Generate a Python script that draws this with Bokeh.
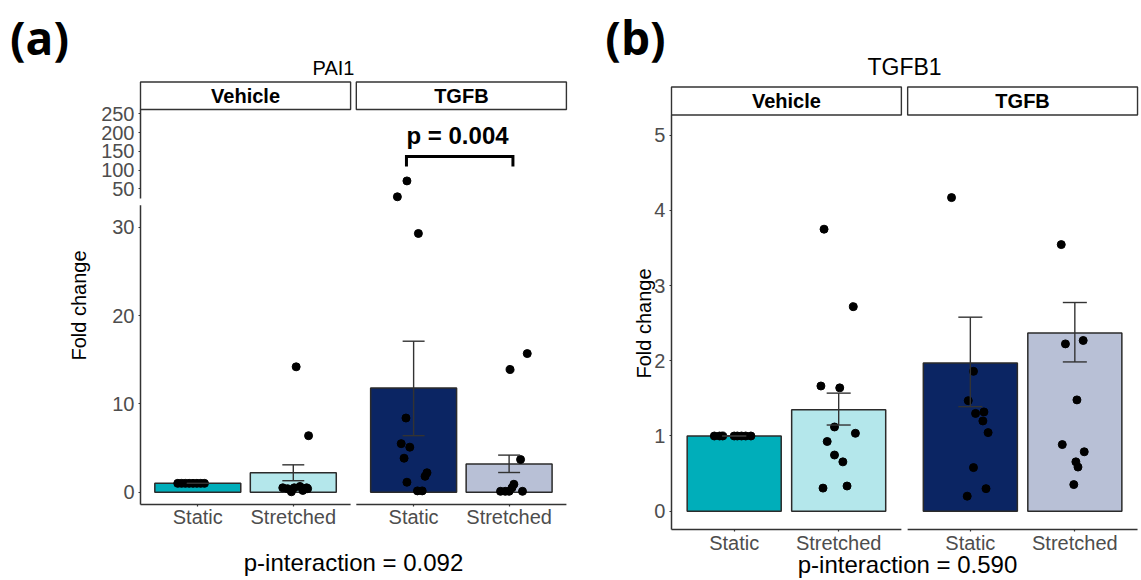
import math
from bokeh.plotting import figure
from bokeh.models import Range1d, FixedTicker, CustomJSTickFormatter, Label
from bokeh.layouts import row
from bokeh.embed import file_html
from bokeh.resources import INLINE
from bokeh.core.properties import value

# ---------------- data ----------------
conditions = ["Vehicle", "TGFB"]
stretch_levels = ["Static", "Stretched"]
x_labels = ["Static", "Stretched", "Static", "Stretched"]

# PAI1 (panel a): group order Vehicle-Static, Vehicle-Stretched, TGFB-Static, TGFB-Stretched
pai1_mean = [1.0, 2.2, 11.8, 3.2]
pai1_err_lo = [1.0, 1.3, 6.4, 2.23]
pai1_err_hi = [1.0, 3.1, 17.1, 4.2]
pai1_veh_static = [1.0, 1.0, 1.0, 1.0, 1.0, 1.0, 1.0, 1.0]
pai1_veh_static_jit = [-0.21, -0.17, -0.13, -0.09, -0.05, -0.01, 0.03, 0.07]
pai1_veh_stretch = [14.2, 6.4, 0.5, 0.4, 0.05, 0.5, 0.65, 0.2, 0.5, 0.4]
pai1_veh_stretch_jit = [0.03, 0.16, -0.11, -0.06, -0.02, 0.01, 0.07, 0.10, 0.14, 0.15]
pai1_tgfb_static = [29.3, 8.4, 5.5, 5.1, 3.85, 2.2, 1.8, 1.13, 0.15, 0.15]
pai1_tgfb_static_jit = [0.05, -0.08, -0.13, -0.04, -0.10, 0.14, 0.12, -0.07, 0.04, 0.09]
pai1_tgfb_static_high = [71.0, 28.7]          # points drawn on the upper (broken) axis
pai1_tgfb_static_high_jit = [-0.07, -0.17]
pai1_tgfb_stretch = [13.9, 15.7, 3.7, 0.1, 0.1, 0.1, 0.5, 0.9, 0.1]
pai1_tgfb_stretch_jit = [0.01, 0.19, 0.12, -0.09, -0.04, 0.0, 0.03, 0.05, 0.14]
pai1_lower_ticks = [0, 10, 20, 30]
pai1_upper_ticks = [50, 100, 150, 200, 250]
pai1_p_value = "p = 0.004"
pai1_p_interaction = "p-interaction = 0.092"

# TGFB1 (panel b)
tgfb1_mean = [1.0, 1.35, 1.97, 2.37]
tgfb1_err_lo = [1.0, 1.146, 1.39, 1.985]
tgfb1_err_hi = [1.0, 1.57, 2.58, 2.775]
tgfb1_veh_static = [1.0, 1.0, 1.0, 1.0, 1.0, 1.0, 1.0, 1.0]
tgfb1_veh_static_jit = [-0.19, -0.14, -0.11, 0.0, 0.03, 0.07, 0.11, 0.16]
tgfb1_veh_stretch = [3.75, 2.72, 1.665, 1.64, 1.12, 1.036, 0.927, 0.747, 0.656, 0.307, 0.335]
tgfb1_veh_stretch_jit = [-0.14, 0.14, -0.17, 0.01, -0.04, 0.16, -0.11, -0.04, 0.04, -0.15, 0.08]
tgfb1_tgfb_static = [4.17, 1.86, 1.47, 1.30, 1.32, 1.20, 1.045, 0.58, 0.30, 0.20]
tgfb1_tgfb_static_jit = [-0.18, 0.03, -0.02, 0.05, 0.13, 0.12, 0.17, 0.03, 0.15, -0.03]
tgfb1_tgfb_stretch = [3.545, 2.225, 2.27, 1.48, 0.886, 0.79, 0.656, 0.587, 0.354]
tgfb1_tgfb_stretch_jit = [-0.13, -0.09, 0.08, 0.02, -0.12, 0.09, 0.01, 0.03, -0.01]
tgfb1_ticks = [0, 1, 2, 3, 4, 5]
tgfb1_p_interaction = "p-interaction = 0.590"

# ---------------- style / layout ----------------
BAR_COLORS = ["#00AEBA", "#B4E7EB", "#0B2563", "#B8C0D6"]
EDGE = "#2B2B2B"
AXIS_C = "#333333"
TICK_TXT = "#4D4D4D"
FONT = "Liberation Sans"
FACET_SHIFT = 2.26
X_POS = [1.0, 2.0, 1.0 + FACET_SHIFT, 2.0 + FACET_SHIFT]
FACETS = [(0.4, 2.6), (0.4 + FACET_SHIFT, 2.6 + FACET_SHIFT)]
BAR_W = 0.9
CAP_W = 0.23
H = 580
WA, WB = 598, 543


def make_fig(w, xr, yr):
    p = figure(width=w, height=H, min_border=0, x_range=Range1d(*xr), y_range=Range1d(*yr),
               output_backend="svg", toolbar_location=None, title=None)
    p.xgrid.visible = False
    p.ygrid.visible = False
    p.outline_line_color = None
    p.background_fill_color = "white"
    p.border_fill_color = "white"
    for ax in list(p.xaxis) + list(p.yaxis):
        ax.axis_line_color = None
        ax.major_tick_line_color = AXIS_C
        ax.major_tick_line_width = 1.2
        ax.major_tick_out = 2
        ax.major_tick_in = 0
        ax.minor_tick_line_color = None
        ax.major_label_text_font = FONT
        ax.major_label_text_font_size = "20px"
        ax.major_label_text_color = TICK_TXT
    p.xaxis.major_label_standoff = 0
    p.yaxis.major_label_standoff = 4
    p.xaxis.ticker = FixedTicker(ticks=X_POS)
    p.xaxis.formatter = CustomJSTickFormatter(args=dict(labels=x_labels), code="return labels[index];")
    p.yaxis.fixed_location = FACETS[0][0]
    return p


def draw_common(p, means, lo, hi, groups, y0, strip_bottom, strip_top):
    p.xaxis.fixed_location = y0
    for (a, b) in FACETS:
        p.segment(x0=a, y0=y0, x1=b, y1=y0, line_color=AXIS_C, line_width=1.5)
    p.quad(left=[f[0] for f in FACETS], right=[f[1] for f in FACETS],
           bottom=strip_bottom, top=strip_top, fill_color="white",
           line_color=AXIS_C, line_width=1.4)
    p.text(x=[(a + b) / 2 for a, b in FACETS], y=(strip_bottom + strip_top) / 2,
           text=conditions, text_font=value(FONT), text_font_style="bold",
           text_font_size="20px", text_align="center", text_baseline="middle",
           text_color="black")
    p.vbar(x=X_POS, top=means, bottom=0, width=BAR_W, fill_color=BAR_COLORS,
           line_color=EDGE, line_width=1.5)
    for i, (vals, jit) in enumerate(groups):
        p.scatter(x=[X_POS[i] + j for j in jit], y=vals, size=8, color="black")
    p.segment(x0=X_POS, y0=lo, x1=X_POS, y1=hi, line_color=AXIS_C, line_width=1.4)
    for arr in (lo, hi):
        p.segment(x0=[x - CAP_W / 2 for x in X_POS], y0=arr,
                  x1=[x + CAP_W / 2 for x in X_POS], y1=arr,
                  line_color=AXIS_C, line_width=1.4)


def add_text(p, text, left, px, py, size, bold=False, font=FONT, angle=0.0):
    # px, py: page position of the text centre
    p.add_layout(Label(x=px - left, y=H - py, x_units="screen", y_units="screen", text=text,
                       text_font=font, text_font_size=size,
                       text_font_style="bold" if bold else "normal",
                       text_align="center", text_baseline="middle",
                       text_color="black", angle=angle))


# ---------------- panel (a): PAI1 with broken y axis ----------------
A_X = (-1.066, 5.196)
A_LOW = (-10.0, 55.685)       # lower-segment scale over the full canvas height
A_UP = (-994.5, 552.1)        # upper-segment scale over the full canvas height
A_AXIS_Y = -1.39
A_LOW_TOP = 32.5
A_UP_BOTTOM = 24.1
A_UP_END = 261.5
A_STRIP = (43.34, 46.45)

pa = make_fig(WA, A_X, A_LOW)
pa.extra_y_ranges = {"upper": Range1d(*A_UP)}


def up_to_low(u):
    return A_LOW[0] + (u - A_UP[0]) / (A_UP[1] - A_UP[0]) * (A_LOW[1] - A_LOW[0])


pa.yaxis.ticker = FixedTicker(ticks=pai1_lower_ticks + [up_to_low(u) for u in pai1_upper_ticks])
pa.yaxis.formatter = CustomJSTickFormatter(
    args=dict(cut=33.0, us=A_UP[0], ue=A_UP[1], ls=A_LOW[0], le=A_LOW[1]),
    code="""
if (tick > cut) {
  const u = us + (tick - ls) / (le - ls) * (ue - us);
  return Math.round(u).toString();
}
return Math.round(tick).toString();
""")

pa.segment(x0=FACETS[0][0], y0=A_AXIS_Y, x1=FACETS[0][0], y1=A_LOW_TOP, line_color=AXIS_C, line_width=1.5)
pa.segment(x0=FACETS[0][0], y0=A_UP_BOTTOM, x1=FACETS[0][0], y1=A_UP_END, line_color=AXIS_C,
           line_width=1.5, y_range_name="upper")

draw_common(pa, pai1_mean, pai1_err_lo, pai1_err_hi,
            [(pai1_veh_static, pai1_veh_static_jit),
             (pai1_veh_stretch, pai1_veh_stretch_jit),
             (pai1_tgfb_static, pai1_tgfb_static_jit),
             (pai1_tgfb_stretch, pai1_tgfb_stretch_jit)],
            A_AXIS_Y, A_STRIP[0], A_STRIP[1])
pa.scatter(x=[X_POS[2] + j for j in pai1_tgfb_static_high_jit], y=pai1_tgfb_static_high,
           size=8, color="black", y_range_name="upper")

bx0, bx1 = 3.185, 4.30
pa.line(x=[bx0, bx0, bx1, bx1], y=[109.5, 136.0, 136.0, 109.5], line_color="black",
        line_width=3, y_range_name="upper", line_join="miter")
pa.add_layout(Label(x=3.72, y=192.0, y_range_name="upper", text=pai1_p_value,
                    text_font=FONT, text_font_size="24px", text_font_style="bold",
                    text_align="center", text_baseline="middle", text_color="black"))

add_text(pa, "(a)", 0, 39, 36, "46px", bold=True, font="Open Sans")
add_text(pa, "PAI1", 0, 333, 67, "20px")
add_text(pa, "Fold change", 0, 78, 305, "20px", angle=math.pi / 2)
add_text(pa, pai1_p_interaction, 0, 353, 562, "24px")

# ---------------- panel (b): TGFB1 ----------------
B_X = (-0.2986, 4.898)
B_Y = (-0.9215, 6.791)
B_AXIS_Y = -0.2434
B_STRIP = (5.269, 5.641)

pb = make_fig(WB, B_X, B_Y)
pb.yaxis.ticker = FixedTicker(ticks=tgfb1_ticks)
pb.segment(x0=FACETS[0][0], y0=B_AXIS_Y, x1=FACETS[0][0], y1=B_STRIP[0], line_color=AXIS_C, line_width=1.5)

draw_common(pb, tgfb1_mean, tgfb1_err_lo, tgfb1_err_hi,
            [(tgfb1_veh_static, tgfb1_veh_static_jit),
             (tgfb1_veh_stretch, tgfb1_veh_stretch_jit),
             (tgfb1_tgfb_static, tgfb1_tgfb_static_jit),
             (tgfb1_tgfb_stretch, tgfb1_tgfb_stretch_jit)],
            B_AXIS_Y, B_STRIP[0], B_STRIP[1])

add_text(pb, "(b)", WA, 635, 36, "46px", bold=True, font="Open Sans")
add_text(pb, "TGFB1", WA, 904, 66, "23px")
add_text(pb, "Fold change", WA, 643, 323, "20px", angle=math.pi / 2)
add_text(pb, tgfb1_p_interaction, WA, 907, 564, "24px")

layout = row(pa, pb, spacing=0)
open("out.html", "w").write(file_html(layout, INLINE))
